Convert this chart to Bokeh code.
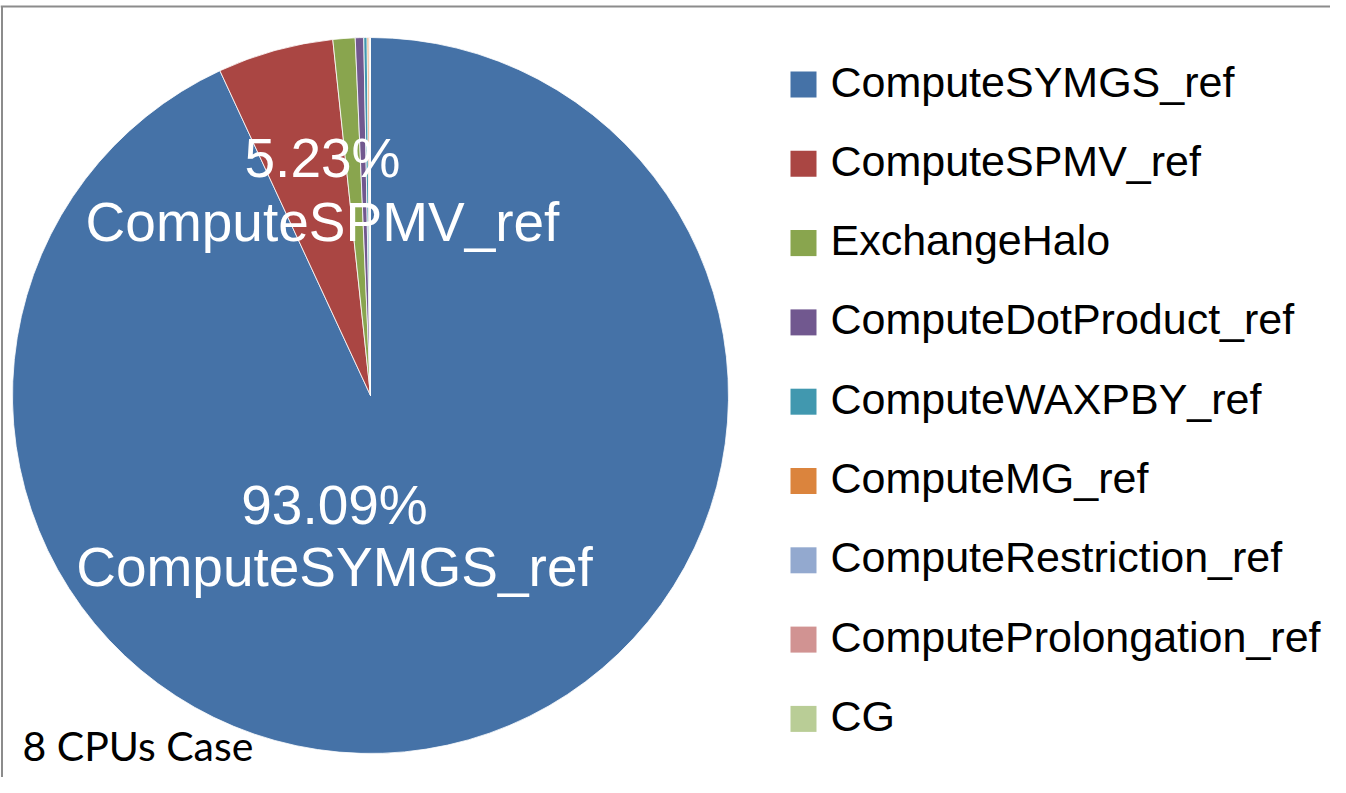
import numpy as np
from bokeh.plotting import figure
from bokeh.models import Range1d, ColumnDataSource
from bokeh.core.properties import value
from bokeh.embed import file_html
from bokeh.resources import INLINE

# ---- data ----
categories = ["ComputeSYMGS_ref", "ComputeSPMV_ref", "ExchangeHalo",
              "ComputeDotProduct_ref", "ComputeWAXPBY_ref", "ComputeMG_ref",
              "ComputeRestriction_ref", "ComputeProlongation_ref", "CG"]
percents = [93.09, 5.23, 1.00, 0.38, 0.15, 0.08, 0.03, 0.03, 0.01]
colors = ["#4572A7", "#AA4643", "#89A54E", "#71588F", "#4198AF",
          "#DB843D", "#93A9CF", "#D19392", "#B9CD96"]
labelled = [0, 1]  # slices that carry a data label
title_text = "8 CPUs Case"

W, H = 1330, 777
p = figure(width=W, height=H, x_range=Range1d(0, W), y_range=Range1d(0, H),
           output_backend="svg", toolbar_location=None,
           x_axis_location=None, y_axis_location=None, min_border=0)
p.grid.visible = False
p.outline_line_color = None
p.background_fill_color = "white"

# ---- pie ----
cx, cy, r = 370, 382, 358
vals = np.array(percents) / sum(percents)
cum = np.concatenate([[0], np.cumsum(vals)])
start = np.pi / 2 - cum[:-1] * 2 * np.pi
end = np.pi / 2 - cum[1:] * 2 * np.pi
src = ColumnDataSource(dict(start=start, end=end, color=colors, cat=categories))
p.wedge(x=cx, y=cy, radius=r, start_angle="start", end_angle="end",
        direction="clock", fill_color="color", line_color="white",
        line_width=0.8, source=src)

# data labels (two-line: percent + category)
lab_pos = {0: (334, 273, 211), 1: (322, 620, 556)}
for i in labelled:
    x, y1, y2 = lab_pos[i]
    p.text(x=[x], y=[y1], text=["%.2f%%" % percents[i]], text_align="center",
           text_baseline="alphabetic", text_color="white",
           text_font=value("Liberation Sans"), text_font_size="55px")
    p.text(x=[x], y=[y2], text=[categories[i]], text_align="center",
           text_baseline="alphabetic", text_color="white",
           text_font=value("Liberation Sans"), text_font_size="55px")

# ---- legend ----
ly0, lstep = 693, 79.3
ly = [ly0 - i * lstep for i in range(len(categories))]
p.rect(x=[803] * len(categories), y=ly, width=26, height=26,
       fill_color=colors, line_color=None)
p.text(x=[830] * len(categories), y=[v + 3 for v in ly], text=categories,
       text_align="left", text_baseline="middle", text_color="black",
       text_font=value("Liberation Sans"), text_font_size="43px")

# ---- caption ----
p.text(x=[22], y=[32], text=[title_text], text_align="left",
       text_baseline="alphabetic", text_color="black",
       text_font=value("Lato"), text_font_size="41px")

# frame lines (top and left)
p.line(x=[0, W], y=[771, 771], line_color="#8c8c8c", line_width=2)
p.line(x=[1.5, 1.5], y=[0, 771], line_color="#8c8c8c", line_width=2)

open("out.html", "w").write(file_html(p, INLINE))
